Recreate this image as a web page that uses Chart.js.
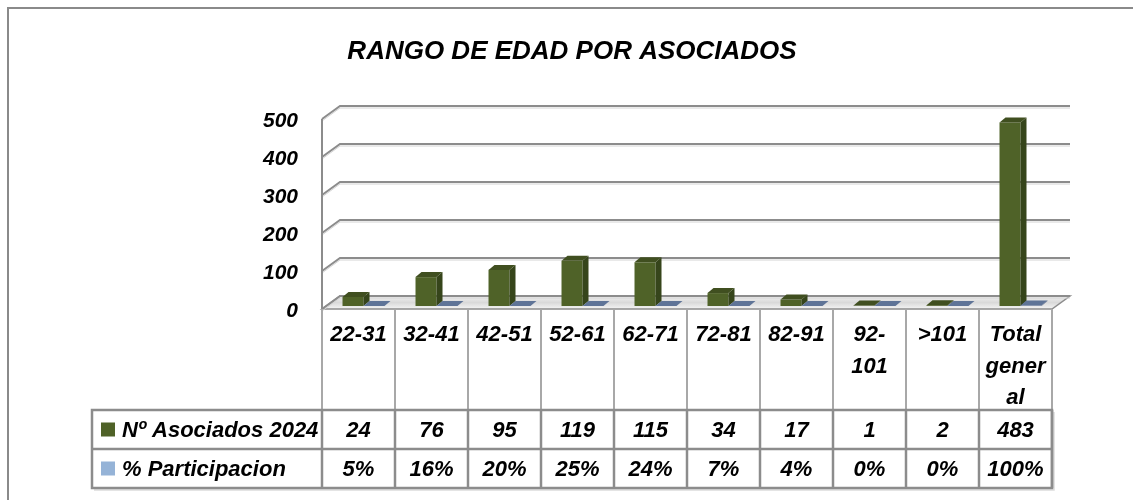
<!DOCTYPE html>
<html><head><meta charset="utf-8">
<script src="https://cdn.jsdelivr.net/npm/chart.js@4.4.1/dist/chart.umd.min.js"></script>
<style>html,body{margin:0;padding:0;background:#fff;} canvas{display:block;}</style>
</head><body>
<canvas id="c" width="1133" height="500"></canvas>
<script>
// ---- data ----
const chartTitle = 'RANGO DE EDAD POR ASOCIADOS';
const categories = ['22-31','32-41','42-51','52-61','62-71','72-81','82-91',['92-','101'],'>101',['Total','gener','al']];
const seriesNames = ['Nº Asociados 2024','% Participacion'];
const asociados = [24,76,95,119,115,34,17,1,2,483];
const participacion = [0.05,0.16,0.20,0.25,0.24,0.07,0.04,0.00,0.00,1.00];
const yTickValues = [0,100,200,300,400,500];

// ---- style ----
const FONT = '"Liberation Sans", Arial, Helvetica, sans-serif';
const WALL = {dx:18, dy:-13};
const BAR_SHIFT = {dx:5, dy:-3};
const BAR_DEPTH = {dx:6, dy:-5};
const faceColors = [
  {front:'#4F6228', side:'#36451B', top:'#404F20', legend:'#4F6228'},
  {front:'#5D7193', side:'#4A5C7C', top:'#5F7497', legend:'#95B3D7'}
];
const TABLE = {left:92, headBottom:410, row1:449, row2:488, headFirstLine:335, lineH:31.5};

function poly(ctx, pts){ ctx.beginPath(); ctx.moveTo(pts[0][0],pts[0][1]); for(let i=1;i<pts.length;i++) ctx.lineTo(pts[i][0],pts[i][1]); ctx.closePath(); }

const threeD = {
  id:'threeD',
  beforeDraw(chart){
    const ctx = chart.ctx;
    ctx.save();
    ctx.strokeStyle = '#8a8a8a'; ctx.lineWidth = 2;
    ctx.beginPath(); ctx.moveTo(8, 500); ctx.lineTo(8, 8); ctx.lineTo(1133, 8); ctx.stroke();
    ctx.fillStyle = '#000';
    ctx.font = 'italic bold 26px ' + FONT;
    ctx.textAlign = 'center'; ctx.textBaseline = 'middle';
    ctx.fillText(chartTitle, 572, 52);
    ctx.restore();
  },
  beforeDatasetsDraw(chart){
    const {ctx, chartArea:a, scales:{x, y}} = chart;
    const y0 = y.getPixelForValue(0);
    ctx.save();
    // floor
    poly(ctx, [[a.left,y0],[a.right,y0],[a.right+WALL.dx,y0+WALL.dy],[a.left+WALL.dx,y0+WALL.dy]]);
    const g = ctx.createLinearGradient(0, y0+WALL.dy, 0, y0);
    g.addColorStop(0,'#f2f2f2'); g.addColorStop(0.5,'#d9d9d9'); g.addColorStop(1,'#f4f4f4');
    ctx.fillStyle = g; ctx.fill();
    ctx.strokeStyle = '#8c8c8c'; ctx.lineWidth = 1.5; ctx.stroke();
    // gridlines on side + back wall
    yTickValues.forEach(v => {
      const py = y.getPixelForValue(v);
      ctx.strokeStyle = '#d4d4d4'; ctx.lineWidth = 1;
      ctx.beginPath(); ctx.moveTo(a.left, py+2); ctx.lineTo(a.left+WALL.dx, py+WALL.dy+2); ctx.lineTo(a.right+WALL.dx, py+WALL.dy+2); ctx.stroke();
      ctx.strokeStyle = '#8c8c8c'; ctx.lineWidth = 2;
      ctx.beginPath(); ctx.moveTo(a.left, py); ctx.lineTo(a.left+WALL.dx, py+WALL.dy); ctx.lineTo(a.right+WALL.dx, py+WALL.dy); ctx.stroke();
    });
    // front vertical axis edge
    ctx.strokeStyle = '#8c8c8c'; ctx.lineWidth = 2;
    ctx.beginPath(); ctx.moveTo(a.left, y.getPixelForValue(yTickValues[yTickValues.length-1])); ctx.lineTo(a.left, y0); ctx.stroke();
    ctx.restore();
  },
  afterDatasetsDraw(chart){
    const {ctx, chartArea:a, scales:{x, y}} = chart;
    ctx.save();
    // 3D bars
    chart.data.datasets.forEach((ds, di) => {
      const c = faceColors[di];
      chart.getDatasetMeta(di).data.forEach(el => {
        const p = el.getProps(['x','y','base','width'], true);
        const l = p.x - p.width/2 + BAR_SHIFT.dx, r = l + p.width;
        const t = p.y + BAR_SHIFT.dy, b = p.base + BAR_SHIFT.dy;
        ctx.fillStyle = c.front; ctx.fillRect(l, t, r-l, b-t);
        ctx.fillStyle = c.side;
        poly(ctx, [[r,b],[r,t],[r+BAR_DEPTH.dx,t+BAR_DEPTH.dy],[r+BAR_DEPTH.dx,b+BAR_DEPTH.dy]]); ctx.fill();
        ctx.fillStyle = c.top;
        poly(ctx, [[l,t],[r,t],[r+BAR_DEPTH.dx,t+BAR_DEPTH.dy],[l+BAR_DEPTH.dx,t+BAR_DEPTH.dy]]); ctx.fill();
      });
    });
    // data table
    const n = categories.length;
    const step = x.getPixelForValue(1) - x.getPixelForValue(0);
    const colL = i => x.getPixelForValue(i) - step/2;
    const top = y.getPixelForValue(0);
    const right = colL(n);
    ctx.lineWidth = 2; ctx.strokeStyle = '#a8a8a8';
    for (let i=0;i<=n;i++){ const cx = colL(i); ctx.beginPath(); ctx.moveTo(cx, top); ctx.lineTo(cx, TABLE.headBottom); ctx.stroke(); }
    // shadow
    ctx.strokeStyle = '#dcdcdc'; ctx.lineWidth = 1.5;
    ctx.beginPath(); ctx.moveTo(TABLE.left+2, TABLE.row2+2); ctx.lineTo(right+2, TABLE.row2+2); ctx.lineTo(right+2, TABLE.headBottom+2); ctx.stroke();
    ctx.strokeStyle = '#8c8c8c'; ctx.lineWidth = 2.5;
    ctx.strokeRect(TABLE.left, TABLE.headBottom, right-TABLE.left, TABLE.row2-TABLE.headBottom);
    ctx.beginPath(); ctx.moveTo(TABLE.left, TABLE.row1); ctx.lineTo(right, TABLE.row1); ctx.stroke();
    for (let i=0;i<=n;i++){ const cx = colL(i); ctx.beginPath(); ctx.moveTo(cx, TABLE.headBottom); ctx.lineTo(cx, TABLE.row2); ctx.stroke(); }
    // texts
    ctx.fillStyle = '#000';
    ctx.font = 'italic bold 22px ' + FONT;
    ctx.textAlign = 'center'; ctx.textBaseline = 'middle';
    categories.forEach((lab, i) => {
      const lines = Array.isArray(lab) ? lab : [lab];
      const cx = x.getPixelForValue(i);
      lines.forEach((s, k) => ctx.fillText(s, cx, TABLE.headFirstLine + k*TABLE.lineH));
    });
    const rowMid = [(TABLE.headBottom+TABLE.row1)/2, (TABLE.row1+TABLE.row2)/2];
    const rowText = [asociados.map(v => String(v)), participacion.map(v => Math.round(v*100)+'%')];
    rowText.forEach((row, ri) => row.forEach((s, i) => ctx.fillText(s, x.getPixelForValue(i), rowMid[ri]+1)));
    ctx.textAlign = 'left';
    seriesNames.forEach((nm, ri) => {
      ctx.fillStyle = faceColors[ri].legend;
      ctx.fillRect(101, rowMid[ri]-7, 14, 14);
      ctx.fillStyle = '#000';
      ctx.fillText(nm, 122, rowMid[ri]+1);
    });
    ctx.restore();
  }
};

new Chart(document.getElementById('c'), {
  type:'bar',
  data:{
    labels: categories,
    datasets:[
      {label: seriesNames[0], data: asociados, backgroundColor:'rgba(0,0,0,0)', categoryPercentage:0.575, barPercentage:1},
      {label: seriesNames[1], data: participacion, backgroundColor:'rgba(0,0,0,0)', categoryPercentage:0.575, barPercentage:1}
    ]
  },
  options:{
    responsive:false, animation:false, devicePixelRatio:1,
    layout:{padding:{top:119, bottom:191, right:81, left:0}},
    plugins:{legend:{display:false}, title:{display:false}, tooltip:{enabled:false}},
    scales:{
      x:{display:false},
      y:{
        min:0, max:500,
        afterFit(s){ s.width = 322; },
        grid:{display:false, drawTicks:false}, border:{display:false},
        ticks:{stepSize:100, padding:24, labelOffset:2, color:'#000', font:{family:FONT, size:21, weight:'bold', style:'italic'}}
      }
    }
  },
  plugins:[threeD]
});
</script>
</body></html>
